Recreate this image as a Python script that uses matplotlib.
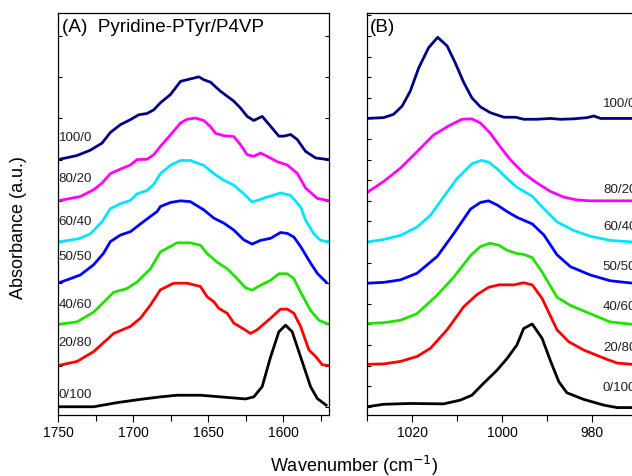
import matplotlib
matplotlib.use("Agg")
import matplotlib.pyplot as plt
from matplotlib.ticker import MultipleLocator

plt.rcParams['font.family'] = ['Liberation Sans', 'DejaVu Sans']

# ---------------- data: panel A (1750-1570 cm-1) ----------------
labels = ["0/100", "20/80", "40/60", "50/50", "60/40", "80/20", "100/0"]
colors = ["#000000", "#ff0000", "#22e000", "#0000ff", "#00e5ff", "#ff00ff", "#000080"]
offsets_A = [0, 1, 2, 3, 4, 5, 6]
offsets_B = [0, 1, 2, 3, 4, 5, 7]

A_x_0_100 = [1750, 1726.2, 1710.7, 1695.1, 1681.8, 1670.7, 1655.1, 1648.4, 1635.1, 1625.1, 1619.6,
             1614, 1608.4, 1602.9, 1598.4, 1594, 1588.4, 1581.8, 1577.3, 1570.7]
A_y_0_100 = [0, 0, 0.10, 0.18, 0.24, 0.28, 0.28, 0.26, 0.22, 0.19, 0.24,
             0.49, 1.21, 1.82, 1.98, 1.82, 1.21, 0.49, 0.20, 0.02]

A_x_20_80 = [1750, 1737.3, 1726.2, 1712.9, 1701.8, 1695.1, 1688.4, 1681.8, 1672.9, 1664, 1655.1,
             1650.7, 1646.2, 1642.9, 1637.3, 1632.9, 1627.3, 1621.8, 1617.3, 1608.4, 1601.8,
             1597.3, 1592.9, 1588.4, 1582.9, 1578.4, 1574, 1569.6]
A_y_20_80 = [0, 0.10, 0.34, 0.78, 0.95, 1.15, 1.47, 1.84, 2.00, 2.00, 1.92,
             1.67, 1.55, 1.39, 1.27, 1.03, 0.91, 0.78, 0.87, 1.15, 1.37,
             1.37, 1.27, 0.95, 0.38, 0.22, 0.02, 0]

A_x_40_60 = [1750, 1737.3, 1726.2, 1712.9, 1704, 1697.3, 1688.4, 1681.8, 1670.7, 1661.8, 1655.1,
             1650.7, 1644, 1637.3, 1630.7, 1625.1, 1620.7, 1615.1, 1608.4, 1602.9, 1597.3,
             1592.9, 1588.4, 1581.8, 1576.2, 1569.6]
A_y_40_60 = [0, 0.06, 0.30, 0.78, 0.87, 1.03, 1.35, 1.76, 1.98, 1.98, 1.92,
             1.72, 1.51, 1.35, 1.11, 0.89, 0.83, 0.95, 1.07, 1.23, 1.23,
             1.11, 0.78, 0.34, 0.10, 0]

A_x_50_50 = [1750, 1735.1, 1726.2, 1719.6, 1715.1, 1708.4, 1701.8, 1692.9, 1684, 1681.8, 1675.1,
             1668.4, 1661.8, 1652.9, 1646.2, 1639.6, 1632.9, 1626.2, 1620.7, 1615.1, 1608.4,
             1601.8, 1597.3, 1592.9, 1588.4, 1581.8, 1577.3, 1570.7]
A_y_50_50 = [0, 0.20, 0.45, 0.73, 1.01, 1.17, 1.25, 1.50, 1.74, 1.86, 1.96,
             2.00, 1.98, 1.78, 1.58, 1.46, 1.29, 1.05, 0.95, 1.04, 1.09,
             1.23, 1.21, 1.12, 0.89, 0.49, 0.24, 0]

A_x_60_40 = [1750, 1736.2, 1728.4, 1720.7, 1715.1, 1708.4, 1701.8, 1697.3, 1690.7, 1686.2, 1681.8,
             1675.1, 1668.4, 1661.8, 1652.9, 1646.2, 1639.6, 1632.9, 1626.2, 1620.7, 1617.3,
             1610.7, 1601.8, 1595.1, 1588.4, 1585.1, 1579.6, 1575.1, 1569.1]
A_y_60_40 = [0, 0.08, 0.20, 0.49, 0.81, 0.93, 1.01, 1.17, 1.25, 1.40, 1.66,
             1.86, 1.98, 1.98, 1.86, 1.66, 1.50, 1.38, 1.17, 0.97, 1.01,
             1.09, 1.19, 1.13, 0.85, 0.53, 0.20, 0.04, 0]

A_x_80_20 = [1750, 1735.1, 1726.2, 1720.7, 1715.1, 1708.4, 1701.8, 1697.3, 1690.7, 1686.2, 1681.8,
             1675.1, 1668.4, 1664, 1658.4, 1652.9, 1648.4, 1645.1, 1639.6, 1632.9, 1628.4,
             1624, 1619.6, 1615.1, 1610.7, 1604, 1597.3, 1590.7, 1585.1, 1577.3, 1569.1]
A_y_80_20 = [0, 0.105, 0.27, 0.43, 0.66, 0.77, 0.87, 1.00, 1.01, 1.12, 1.32,
             1.60, 1.89, 1.98, 2.01, 1.95, 1.80, 1.64, 1.58, 1.56, 1.36,
             1.12, 1.08, 1.16, 1.08, 0.95, 0.87, 0.67, 0.31, 0.06, 0]

A_x_100_0 = [1750, 1737.3, 1728.4, 1720.7, 1715.1, 1708.4, 1701.8, 1696.2, 1690.7, 1686.2, 1681.8,
             1675.1, 1668.4, 1661.8, 1656.2, 1652.9, 1648.4, 1641.8, 1632.9, 1628.4, 1624,
             1619.6, 1614, 1608.4, 1602.9, 1599.6, 1595.1, 1590.7, 1585.1, 1578.4, 1569.6]
A_y_100_0 = [0, 0.10, 0.23, 0.40, 0.66, 0.85, 0.97, 1.09, 1.12, 1.21, 1.38,
             1.58, 1.90, 1.96, 2.01, 1.94, 1.88, 1.66, 1.42, 1.25, 1.05,
             0.95, 1.05, 0.81, 0.57, 0.57, 0.61, 0.49, 0.20, 0.04, 0]

# ---------------- data: panel B (1030-970 cm-1) ----------------
B_x_0_100 = [1030, 1026.3, 1020.4, 1013, 1009.3, 1006.7, 1004.1, 1001.1, 998.9, 996.7, 995.2,
             993.3, 991.1, 989.3, 987.4, 985.6, 981.9, 977.4, 974.4, 971]
B_y_0_100 = [0, 0.06, 0.08, 0.07, 0.16, 0.28, 0.57, 0.89, 1.17, 1.50, 1.90,
             2.01, 1.66, 1.13, 0.61, 0.34, 0.18, 0.04, -0.02, -0.02]

B_x_20_80 = [1030, 1026.3, 1022.6, 1018.9, 1015.9, 1012.2, 1008.5, 1005.6, 1003, 1000.7, 997.4,
             995.2, 993.3, 991.1, 987.8, 985.2, 981.9, 977.4, 974.4, 971]
B_y_20_80 = [0.03, 0.04, 0.10, 0.22, 0.42, 0.87, 1.43, 1.72, 1.90, 1.96, 1.96,
             2.01, 1.96, 1.63, 0.87, 0.58, 0.38, 0.18, 0.06, 0.03]

B_x_40_60 = [1030, 1026.3, 1022.6, 1018.9, 1014.4, 1010.7, 1007, 1004.8, 1002.7, 1000.7, 998.9,
             996.7, 995.2, 993.3, 991.1, 987.8, 984.8, 980.4, 976, 971]
B_y_40_60 = [0.02, 0.04, 0.10, 0.26, 0.71, 1.15, 1.67, 1.89, 1.97, 1.92, 1.80,
             1.72, 1.70, 1.62, 1.27, 0.66, 0.46, 0.26, 0.06, 0]

B_x_50_50 = [1030, 1026.3, 1022.6, 1018.9, 1014.4, 1010.7, 1007, 1004.8, 1003, 1001.1, 998.9,
             996.7, 993.3, 990.7, 987.8, 984.8, 980.4, 976, 971]
B_y_50_50 = [0, 0.02, 0.08, 0.24, 0.65, 1.21, 1.80, 1.96, 2.00, 1.90, 1.74,
             1.60, 1.44, 1.17, 0.69, 0.40, 0.20, 0.06, 0]

B_x_60_40 = [1030, 1026.3, 1022.6, 1018.9, 1015.9, 1013, 1010, 1006.7, 1004.6, 1003, 1001.1,
             998.9, 996.7, 993.3, 990.7, 987.8, 984.1, 980.4, 976, 971]
B_y_60_40 = [0, 0.06, 0.16, 0.36, 0.65, 1.09, 1.54, 1.90, 1.98, 1.94, 1.78,
             1.54, 1.33, 1.11, 0.81, 0.49, 0.28, 0.14, 0.04, 0]

B_x_80_20 = [1030, 1026.3, 1022.6, 1018.9, 1015.2, 1011.5, 1008.9, 1006.7, 1004.8, 1002.6, 1000.4,
             998.1, 995.2, 992.2, 989.3, 986.3, 983.3, 980.4, 971]
B_y_80_20 = [0.20, 0.47, 0.79, 1.19, 1.60, 1.84, 1.98, 1.99, 1.89, 1.64, 1.31,
             0.99, 0.67, 0.43, 0.23, 0.09, 0.02, 0, 0]

B_x_100_0 = [1030, 1026.3, 1024.1, 1022.2, 1020.4, 1018.5, 1016.3, 1014.3, 1012.2, 1010.4, 1008.5,
             1006.7, 1004.8, 1002.6, 999.6, 997, 995.2, 992.2, 989.3, 987, 984.1,
             981.1, 979.6, 978.1, 971]
B_y_100_0 = [0, 0.02, 0.10, 0.30, 0.66, 1.23, 1.72, 1.97, 1.76, 1.35, 0.87,
             0.50, 0.28, 0.14, 0.03, 0.03, -0.02, -0.02, 0, -0.02, -0.01,
             0.02, 0.06, 0, 0]

A_xs = [A_x_0_100, A_x_20_80, A_x_40_60, A_x_50_50, A_x_60_40, A_x_80_20, A_x_100_0]
A_ys = [A_y_0_100, A_y_20_80, A_y_40_60, A_y_50_50, A_y_60_40, A_y_80_20, A_y_100_0]
B_xs = [B_x_0_100, B_x_20_80, B_x_40_60, B_x_50_50, B_x_60_40, B_x_80_20, B_x_100_0]
B_ys = [B_y_0_100, B_y_20_80, B_y_40_60, B_y_50_50, B_y_60_40, B_y_80_20, B_y_100_0]

# label anchor heights (data units)
labA_y = [0.28, 1.54, 2.47, 3.64, 4.49, 5.52, 6.52]
labB_y = [0.45, 1.42, 2.43, 3.40, 4.37, 5.26, 7.34]

fig = plt.figure(figsize=(6.32, 4.76), dpi=100)
axA = fig.add_axes([58/632, 61/476, 271/632, 402/476])
axB = fig.add_axes([367/632, 61/476, 271/632, 402/476])

for i in range(7):
    axA.plot(A_xs[i], [v + offsets_A[i] for v in A_ys[i]], color=colors[i], lw=2.0,
             solid_joinstyle='round', solid_capstyle='butt')
    axA.text(1749.5, labA_y[i], labels[i], fontsize=9.6, ha='left', va='center', color='#202020')
    axB.plot(B_xs[i], [v + offsets_B[i] for v in B_ys[i]], color=colors[i], lw=2.0,
             solid_joinstyle='round', solid_capstyle='butt')
    axB.text(977.6, labB_y[i], labels[i], fontsize=9.6, ha='left', va='center', color='#202020',
             clip_on=False)

axA.set_xlim(1750, 1569.5)
axB.set_xlim(1030, 969.8)
for ax in (axA, axB):
    ax.set_ylim(-0.2, 9.56)
    ax.set_yticklabels([])
    ax.tick_params(axis='y', which='both', direction='in', left=True, right=True, length=3, width=0.8,
                   labelleft=False)
    ax.tick_params(axis='x', which='major', direction='out', length=5, width=0.8, labelsize=10, pad=3)
    ax.tick_params(axis='x', which='minor', direction='out', length=4, width=0.8)
    for s in ax.spines.values():
        s.set_linewidth(0.9)

axA.xaxis.set_major_locator(MultipleLocator(50))
axA.xaxis.set_minor_locator(MultipleLocator(25))
axA.yaxis.set_major_locator(MultipleLocator(1))
axA.yaxis.set_minor_locator(plt.NullLocator())
axB.xaxis.set_major_locator(MultipleLocator(20))
axB.xaxis.set_minor_locator(MultipleLocator(10))
axB.yaxis.set_major_locator(MultipleLocator(0.5))
axB.yaxis.set_minor_locator(plt.NullLocator())

axA.text(0.015, 0.963, "(A)  Pyridine-PTyr/P4VP", transform=axA.transAxes, fontsize=13.6,
         ha='left', va='center')
axB.text(0.012, 0.963, "(B)", transform=axB.transAxes, fontsize=13.6, ha='left', va='center')

fig.text(0.030, 0.521, "Absorbance (a.u.)", rotation=90, fontsize=13, ha='center', va='center')
fig.text(0.560, 0.022, "Wavenumber (cm$^{-1}$)", fontsize=13, ha='center', va='center')

fig.savefig("out.png", dpi=100)
